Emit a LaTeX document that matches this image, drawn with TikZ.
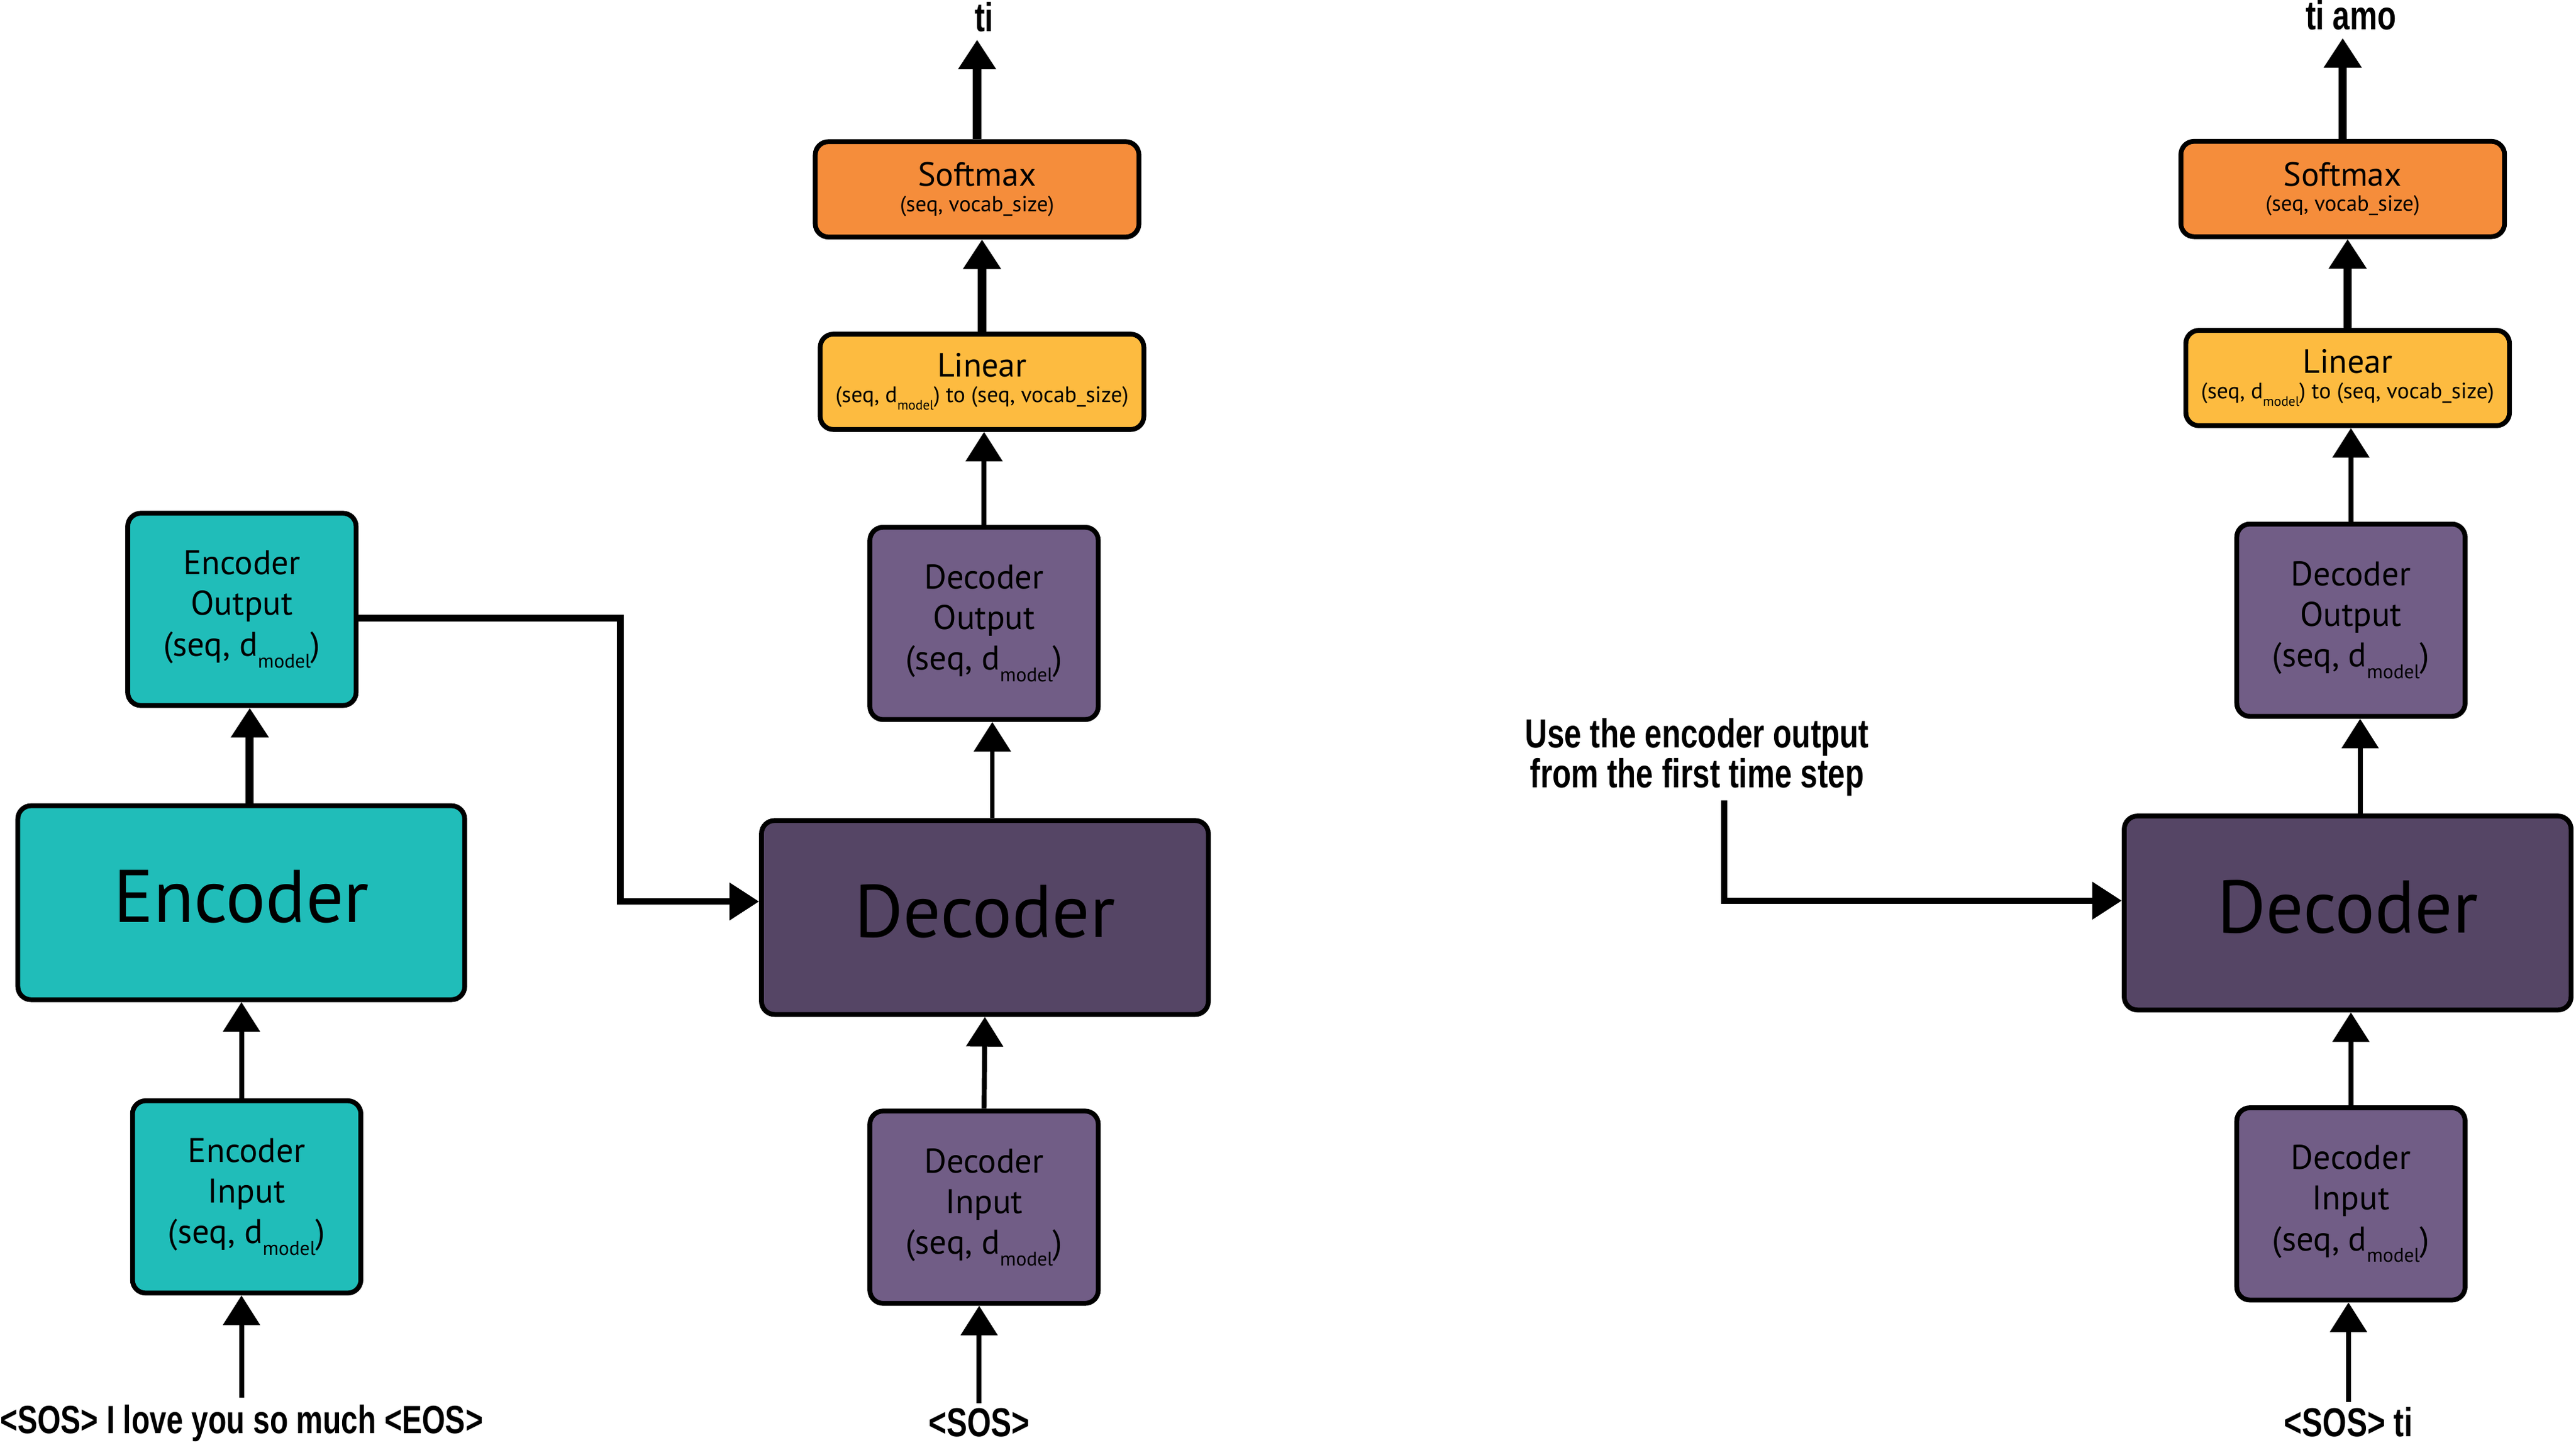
\documentclass[tikz,border=0pt]{standalone}
\usepackage{fontspec}
\setmainfont{PT Sans}
\newfontfamily\lblfont[FakeStretch=0.76]{Liberation Sans Bold}
\usetikzlibrary{arrows.meta}
\definecolor{encteal}{HTML}{20BDB9}
\definecolor{decdark}{HTML}{554565}
\definecolor{declight}{HTML}{715D86}
\definecolor{linyel}{HTML}{FDBB40}
\definecolor{softor}{HTML}{F58D3B}
\newcommand\dmod[2]{d\raisebox{-#2}{\fontsize{#1}{#1}\selectfont model}}
\begin{document}
\begin{tikzpicture}[x=0.75pt,y=-0.75pt,
  box/.style={draw=black, line width=2.2pt, rounded corners=6pt, inner sep=0pt, align=center, text=black},
  smallbox/.style={box, minimum width=104.25pt, minimum height=87.75pt, font=\fontsize{15.6}{18.5}\selectfont},
  bigbox/.style={box, minimum width=204pt, minimum height=88.5pt, text depth=6pt, font=\fontsize{34}{36}\selectfont},
  barbox/.style={box, minimum width=147.75pt, minimum height=43.5pt, font=\fontsize{15.3}{18.5}\selectfont},
  lbl/.style={inner sep=0pt, font=\lblfont\fontsize{18.5}{18}\selectfont, align=center},
  tip/.style={-{Triangle[width=16.5pt,length=13.5pt]}},
  thinarr/.style={tip, line width=2.25pt},
  medarr/.style={tip, line width=3pt},
  thickarr/.style={tip, line width=3.75pt}
]
\useasboundingbox (0,0) rectangle (1568,882);

% ---------- left: encoder ----------
\node[smallbox, fill=encteal] (encout) at (147.25,370.75) {Encoder\\Output\\(seq, \dmod{9pt}{5.4pt})};
\node[bigbox, fill=encteal] (enc) at (146.85,549.25) {Encoder};
\node[smallbox, fill=encteal] (encin) at (150.15,728.25) {Encoder\\Input\\(seq, \dmod{9pt}{5.4pt})};
\node[lbl, anchor=base, font=\lblfont\fontsize{18}{18}\selectfont] (src) at (147,872) {<SOS> I love you so much <EOS>};

\draw[thinarr, shorten <=3pt] (src.north) -- (src.north |- encin.south);
\draw[thinarr] (encin.north -| src.north) -- (enc.south -| src.north);
\draw[thickarr] ([xshift=3.9pt]enc.north) -- ([xshift=3.9pt]enc.north |- encout.south);

% ---------- middle: decoder, time step 1 ----------
\node[barbox, fill=softor] (soft1) at (594.75,115.2) {Softmax\\[-7pt]{\fontsize{10}{11}\selectfont (seq, vocab\_size)}};
\node[barbox, fill=linyel] (lin1) at (597.75,232.3) {Linear\\[-7pt]{\fontsize{10.2}{11}\selectfont (seq, \dmod{6.2pt}{3.6pt}) to (seq, vocab\_size)}};
\node[smallbox, fill=declight] (decout1) at (599,379.3) {Decoder\\Output\\(seq, \dmod{9pt}{5.4pt})};
\node[bigbox, fill=decdark] (dec1) at (599.5,558.25) {Decoder};
\node[smallbox, fill=declight] (decin1) at (599,734.5) {Decoder\\Input\\(seq, \dmod{9pt}{5.4pt})};
\node[lbl, anchor=base] (sos1) at (596,874) {<SOS>};
\node[lbl, anchor=base] (out1) at (599,19) {ti};

\coordinate (elb1) at (377.5,548.5);
\draw[medarr] ([yshift=-4pt]encout.east) -| (elb1) -- (elb1 -| dec1.west);

\draw[thinarr, shorten <=2pt] (sos1.north) -- (sos1.north |- decin1.south);
\draw[thinarr] (decin1.north) -- (dec1.south);
\draw[thinarr] ([xshift=3.4pt]dec1.north) -- ([xshift=3.4pt]dec1.north |- decout1.south);
\draw[thinarr] (decout1.north) -- (decout1.north |- lin1.south);
\draw[thickarr] (lin1.north) -- (lin1.north |- soft1.south);
\draw[thickarr, shorten >=3.5pt] (soft1.north) -- (soft1.north |- out1.south);

% ---------- right: decoder, time step 2 ----------
\node[barbox, fill=softor] (soft2) at (1426,115) {Softmax\\[-7pt]{\fontsize{10}{11}\selectfont (seq, vocab\_size)}};
\node[barbox, fill=linyel] (lin2) at (1429,230) {Linear\\[-7pt]{\fontsize{10.2}{11}\selectfont (seq, \dmod{6.2pt}{3.6pt}) to (seq, vocab\_size)}};
\node[smallbox, fill=declight] (decout2) at (1431,377.35) {Decoder\\Output\\(seq, \dmod{9pt}{5.4pt})};
\node[bigbox, fill=decdark] (dec2) at (1429,555.5) {Decoder};
\node[smallbox, fill=declight] (decin2) at (1431,732.5) {Decoder\\Input\\(seq, \dmod{9pt}{5.4pt})};
\node[lbl, anchor=base] (sos2) at (1429.5,874) {<SOS> ti};
\node[lbl, anchor=base] (out2) at (1431,18) {ti amo};
\node[lbl, anchor=north] (ann) at (1033,437) {Use the encoder output\\from the first time step};

\coordinate (elb2) at (1049.5,548);
\draw[medarr, shorten <=2pt] (ann.south -| elb2) -- (elb2) -- (elb2 -| dec2.west);

\draw[thinarr, shorten <=2pt] (sos2.north) -- (sos2.north |- decin2.south);
\draw[thinarr] (decin2.north) -- (decin2.north |- dec2.south);
\draw[thinarr] ([xshift=4.2pt]decout2.south |- dec2.north) -- ([xshift=4.2pt]decout2.south);
\draw[thinarr] (decout2.north) -- (decout2.north |- lin2.south);
\draw[thickarr] (lin2.north) -- (lin2.north |- soft2.south);
\draw[thickarr, shorten >=3.5pt] (soft2.north) -- (soft2.north |- out2.south);
\end{tikzpicture}
\end{document}
